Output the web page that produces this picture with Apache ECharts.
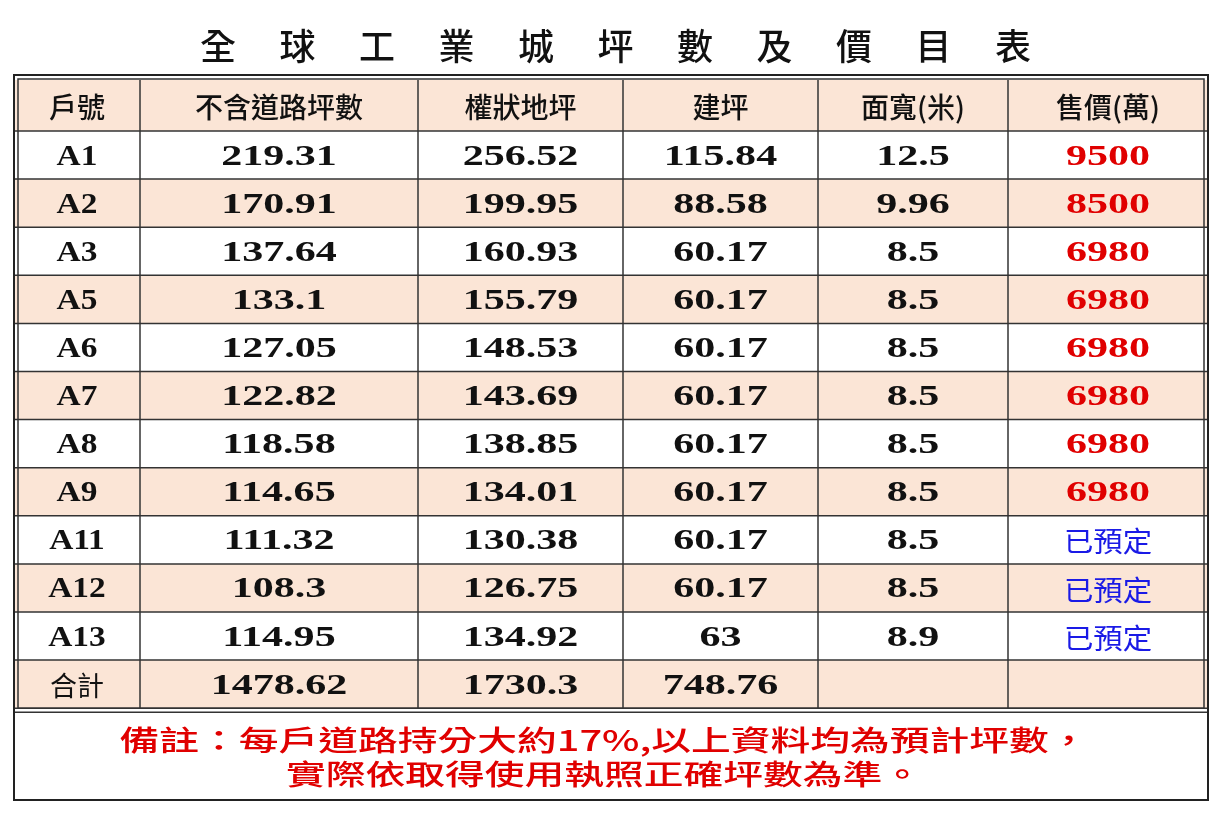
<!DOCTYPE html>
<html><head><meta charset="utf-8">
<script src="https://cdn.jsdelivr.net/npm/echarts@6/dist/echarts.min.js"></script>
<style>html,body{margin:0;padding:0;background:#fff}#main{width:1227px;height:820px}</style>
</head><body><div id="main"></div>
<script>
var title = '全球工業城坪數及價目表';
var headers = ['戶號', '不含道路坪數', '權狀地坪', '建坪', '面寬(米)', '售價(萬)'];
var units = ['A1', 'A2', 'A3', 'A5', 'A6', 'A7', 'A8', 'A9', 'A11', 'A12', 'A13', '合計'];
var netArea = ['219.31', '170.91', '137.64', '133.1', '127.05', '122.82', '118.58', '114.65', '111.32', '108.3', '114.95', '1478.62'];
var landArea = ['256.52', '199.95', '160.93', '155.79', '148.53', '143.69', '138.85', '134.01', '130.38', '126.75', '134.92', '1730.3'];
var buildArea = ['115.84', '88.58', '60.17', '60.17', '60.17', '60.17', '60.17', '60.17', '60.17', '60.17', '63', '748.76'];
var width = ['12.5', '9.96', '8.5', '8.5', '8.5', '8.5', '8.5', '8.5', '8.5', '8.5', '8.9', ''];
var price = ['9500', '8500', '6980', '6980', '6980', '6980', '6980', '6980', '已預定', '已預定', '已預定', ''];
var note = ['備註：每戶道路持分大約17%,以上資料均為預計坪數，', '實際依取得使用執照正確坪數為準。'];

var colX = [14, 140, 418, 623, 818, 1008, 1208];
var top0 = 80, headH = 51, rowH = 48.1;
var peach = '#fbe5d6', line = '#333';
var font = '"Liberation Serif", "Noto Sans CJK TC", serif';
var g = [];

function txt(x, y, text, f, fill, sx) {
  g.push({type: 'text', x: x, y: y, scaleX: sx || 1, style: {x: 0, y: 0, text: text, font: f, fill: fill, align: 'center', verticalAlign: 'middle'}});
}

var chars = title.split('');
for (var i = 0; i < chars.length; i++) {
  txt(218 + i * 79.5, 46, chars[i], '500 36px "Noto Sans CJK TC"', '#111');
}

var columns = [units, netArea, landArea, buildArea, width, price];
var rowsN = units.length;
var tableBottom = top0 + headH + rowsN * rowH;

g.push({type: 'rect', shape: {x: colX[0], y: top0, width: colX[6] - colX[0], height: headH}, style: {fill: peach}});
for (var r = 0; r < rowsN; r++) {
  if (r % 2 === 1) {
    g.push({type: 'rect', shape: {x: colX[0], y: top0 + headH + r * rowH, width: colX[6] - colX[0], height: rowH}, style: {fill: peach}});
  }
}
for (var c = 0; c < 6; c++) {
  txt((colX[c] + colX[c + 1]) / 2, top0 + headH / 2 + 2, headers[c], '500 28px "Noto Sans CJK TC"', '#111');
}
for (var r = 0; r < rowsN; r++) {
  for (var c = 0; c < 6; c++) {
    var v = columns[c][r];
    var col = '#111', f = 'bold 29px ' + font, sx = 1.45;
    if (c === 5) {
      col = /^\d+$/.test(v) ? '#e00000' : '#1a1ae6';
      if (!/^\d+$/.test(v)) { f = '28px "Noto Sans CJK TC"'; sx = 1.05; }
    }
    if (c === 0) sx = 1.15;
    if (v === '合計') { f = '27px "Noto Sans CJK TC"'; sx = 1; }
    txt((colX[c] + colX[c + 1]) / 2, top0 + headH + r * rowH + rowH / 2 + 2, v, f, col, sx);
  }
}
for (var r = 0; r <= rowsN; r++) {
  var y = top0 + headH + r * rowH;
  g.push({type: 'line', shape: {x1: colX[0], y1: y, x2: colX[6], y2: y}, style: {stroke: line, lineWidth: 1.5}});
}
for (var c = 1; c < 6; c++) {
  g.push({type: 'line', shape: {x1: colX[c], y1: top0, x2: colX[c], y2: tableBottom}, style: {stroke: line, lineWidth: 1.5}});
}
g.push({type: 'line', shape: {x1: colX[0], y1: tableBottom + 4, x2: colX[6], y2: tableBottom + 4}, style: {stroke: line, lineWidth: 1.5}});
g.push({type: 'rect', shape: {x: colX[0], y: 75, width: colX[6] - colX[0], height: 725}, style: {fill: null, stroke: '#222', lineWidth: 2}});
g.push({type: 'rect', shape: {x: colX[0] + 4, y: 79, width: colX[6] - colX[0] - 8, height: tableBottom - 79}, style: {fill: null, stroke: line, lineWidth: 1.5}});
txt(604, 740, note[0], '500 28px "Noto Sans CJK TC"', '#e00000', 1.42);
txt(604, 774, note[1], '500 28px "Noto Sans CJK TC"', '#e00000', 1.42);

var myChart = echarts.init(document.getElementById('main'));
myChart.setOption({animation: false, graphic: g});
</script></body></html>
